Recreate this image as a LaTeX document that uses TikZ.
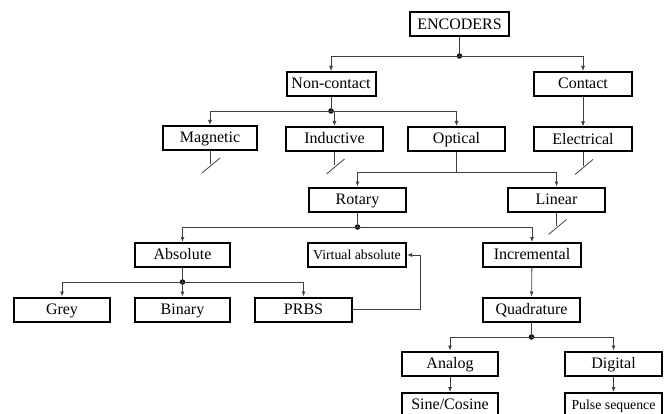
\documentclass[tikz,border=0pt]{standalone}
\usepackage{fontspec}
\setmainfont{Liberation Serif}
\usetikzlibrary{arrows.meta}
\begin{document}
\begin{tikzpicture}[x=1pt,y=-1pt,
  box/.style={draw=black,line width=2pt,inner sep=0pt,minimum height=24pt,
    text height=12pt,text depth=2.5pt,
    font=\fontsize{16}{18}\selectfont},
  smallbox/.style={box,text height=12pt,text depth=2.5pt,font=\fontsize{13.8}{16}\selectfont},
  conn/.style={draw=black!75,line width=0.8pt},
  arr/.style={conn,-{Latex[length=5pt,width=4pt]}},
  dot/.style={circle,fill=black,inner sep=0pt,minimum size=5.5pt},
  brk/.style={draw=black!75,line width=0.8pt}]
\useasboundingbox (0,0) rectangle (668,414);
\clip (0,0) rectangle (668,414);
% boxes
\node[box,minimum width=99pt] (enc) at (459.5,24.5) {ENCODERS};
\node[box,minimum width=89pt] (noncontact) at (331,84) {Non-contact};
\node[box,minimum width=98pt] (contact) at (583,84) {Contact};
\node[box,minimum width=94pt] (magnetic) at (210,138) {Magnetic};
\node[box,minimum width=97pt] (inductive) at (334.5,139) {Inductive};
\node[box,minimum width=97pt] (optical) at (456.5,139) {Optical};
\node[box,minimum width=98pt] (electrical) at (583,139.5) {Electrical};
\node[box,minimum width=97pt] (rotary) at (357.5,199.5) {Rotary};
\node[box,minimum width=97pt] (linear) at (556.5,199.5) {Linear};
\node[box,minimum width=95pt] (absolute) at (182.5,255) {Absolute};
\node[smallbox,minimum width=98pt] (virtual) at (357,255) {Virtual absolute};
\node[box,minimum width=98pt] (incremental) at (532,255) {Incremental};
\node[box,minimum width=96pt] (grey) at (62,309.5) {Grey};
\node[box,minimum width=95pt] (binary) at (182.5,309.5) {Binary};
\node[box,minimum width=97pt] (prbs) at (303.5,309.5) {PRBS};
\node[box,minimum width=97pt] (quadrature) at (531.5,309.5) {Quadrature};
\node[box,minimum width=96pt] (analog) at (450,363.5) {Analog};
\node[box,minimum width=97pt] (digital) at (613.5,363.5) {Digital};
\node[box,minimum width=96pt] (sine) at (450,405) {Sine/Cosine};
\node[smallbox,minimum width=97pt] (pulse) at (613.5,405) {Pulse sequence};
% junctions
\node[dot] (j1) at (459.5,56) {};
\node[dot] (j2) at (331,111) {};
\coordinate (jo) at (456.5,172);
\node[dot] (j3) at (357.5,227) {};
\node[dot] (j4) at (182.5,282) {};
\node[dot] (j5) at (531.5,337) {};
% connectors
\draw[conn] (enc) -- (j1.center);
\draw[arr] (j1.center) -| (noncontact);
\draw[arr] (j1.center) -| (contact);
\draw[conn] (noncontact) -- (j2.center);
\draw[arr] (j2.center) -| (magnetic);
\draw[arr] (j2.center) -| (inductive);
\draw[arr] (j2.center) -| (optical);
\draw[arr] (contact) -- (electrical);
\draw[conn] (optical) -- (jo);
\draw[arr] (jo) -| (rotary);
\draw[arr] (jo) -| (linear);
\draw[conn] (rotary) -- (j3.center);
\draw[arr] (j3.center) -| (absolute);
\draw[arr] (j3.center) -| (incremental);
\draw[conn] (absolute) -- (j4.center);
\draw[arr] (j4.center) -| (grey);
\draw[arr] (j4.center) -- (binary);
\draw[arr] (j4.center) -| (prbs);
\draw[arr] (prbs.east) -- ++(67,0) |- (virtual.east);
\draw[arr] (incremental) -- (quadrature);
\draw[conn] (quadrature) -- (j5.center);
\draw[arr] (j5.center) -| (analog);
\draw[arr] (j5.center) -| (digital);
\draw[arr] (analog) -- (sine);
\draw[arr] (digital) -- (pulse);
% break marks
\foreach \n in {magnetic,inductive,electrical,linear}{
  \draw[brk] (\n.south) -- ++(0,13);
  \draw[brk] ([shift={(-8,22)}]\n.south) -- ([shift={(10,7)}]\n.south);
}
\end{tikzpicture}
\end{document}
